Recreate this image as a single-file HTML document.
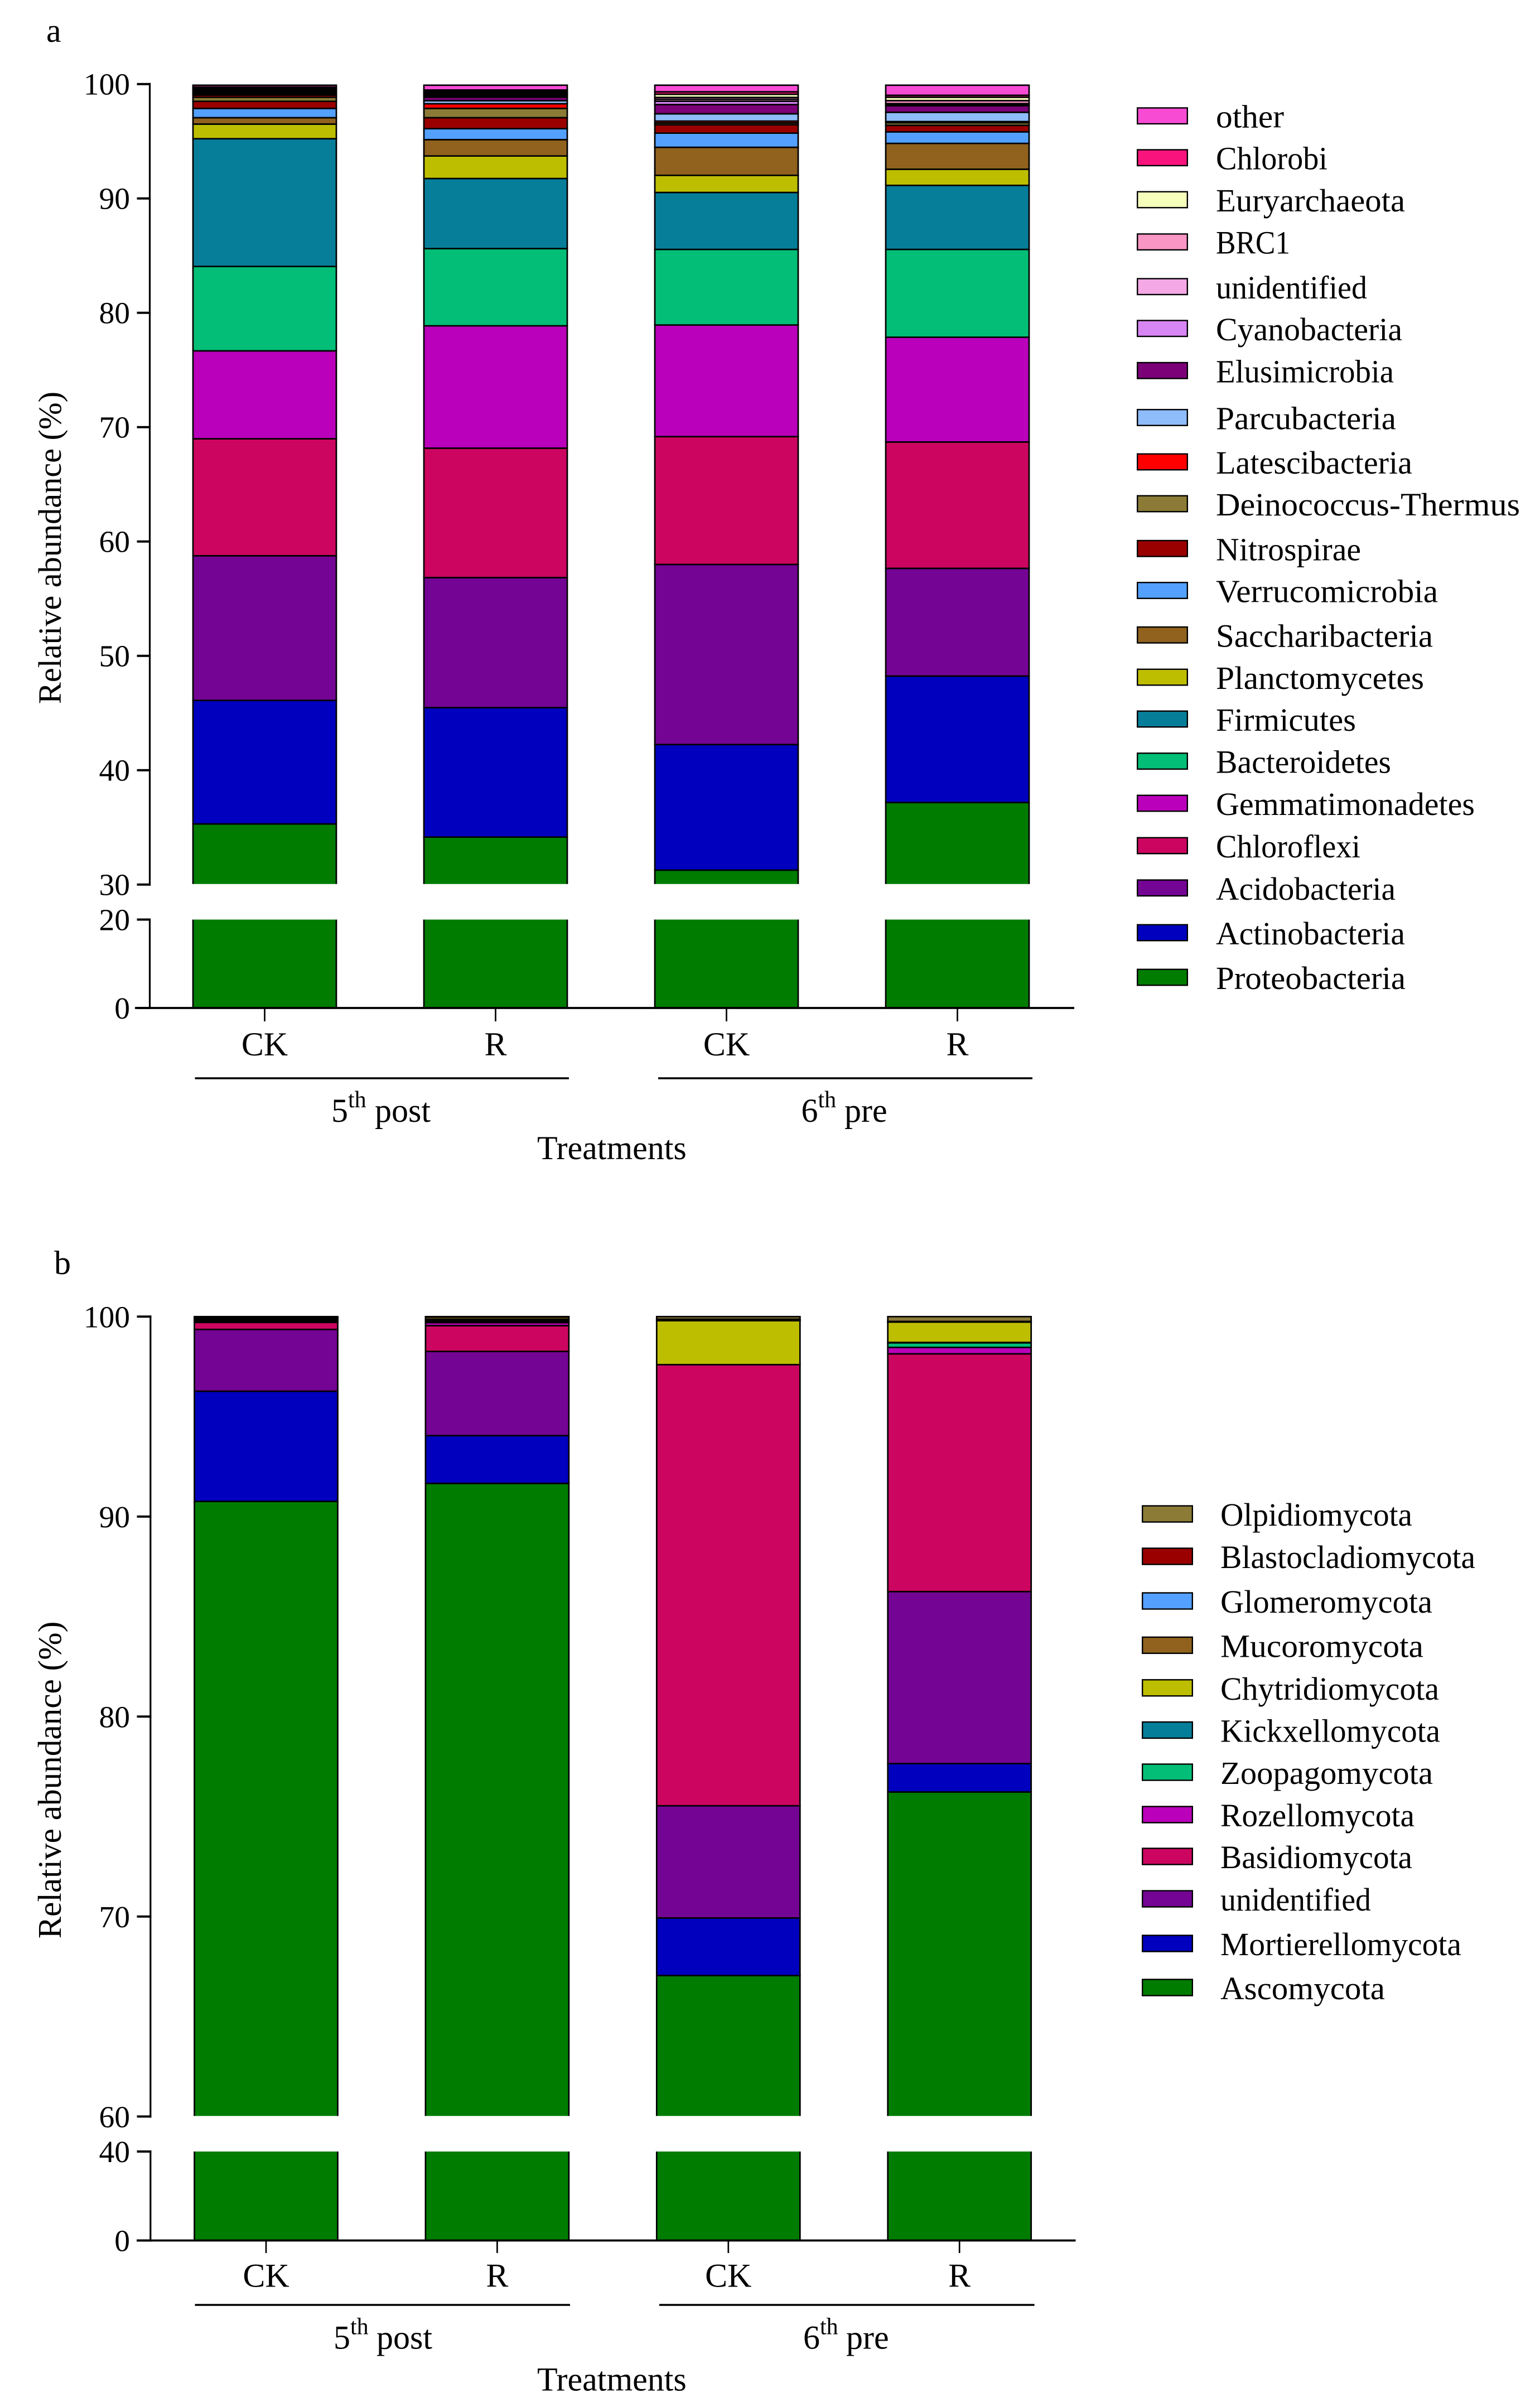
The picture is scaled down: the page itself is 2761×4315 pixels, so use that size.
<!DOCTYPE html>
<html lang="en">
<head>
<meta charset="utf-8">
<title>Relative abundance stacked bars</title>
<style>
html,body{margin:0;padding:0;background:#fff;}
svg{display:block;}
text{font-family:"Liberation Serif",serif;fill:#000;}
</style>
</head>
<body>
<svg id="figure" xmlns="http://www.w3.org/2000/svg" width="2761" height="4315" viewBox="0 0 2761 4315">
<defs id="clips"></defs>
<rect x="0" y="0" width="2761" height="4315" fill="#fff"></rect>
</svg>
<script>
// ---------- shared categories and ticks ----------
const treatmentCategories = ['CK', 'R', 'CK', 'R'];
const groupLabels = ['5', '6'];
const groupWords = ['post', 'pre'];

// ---------- panel a: bacteria (values per bar: 5th CK, 5th R, 6th CK, 6th R) ----------
const aUpperTicks = [100, 90, 80, 70, 60, 50, 40, 30];
const aLowerTicks = [20, 0];
const aProteobacteria = [35.3, 34.15, 31.26, 37.17];
const aActinobacteria = [10.8, 11.32, 10.98, 11.06];
const aAcidobacteria = [12.65, 11.37, 15.75, 9.42];
const aChloroflexi = [10.23, 11.32, 11.18, 11.05];
const aGemmatimonadetes = [7.69, 10.7, 9.76, 9.16];
const aBacteroidetes = [7.38, 6.75, 6.61, 7.68];
const aFirmicutes = [11.17, 6.13, 4.98, 5.6];
const aPlanctomycetes = [1.28, 1.97, 1.5, 1.41];
const aSaccharibacteria = [0.56, 1.43, 2.45, 2.26];
const aVerrucomicrobia = [0.81, 0.96, 1.24, 1.01];
const aNitrospirae = [0.62, 0.96, 0.73, 0.57];
const aDeinococcus = [0.36, 0.81, 0.16, 0.23];
const aLatescibacteria = [0.17, 0.41, 0.16, 0.1];
const aParcubacteria = [0.1, 0.27, 0.64, 0.81];
const aElusimicrobia = [0.1, 0.31, 0.81, 0.57];
const aCyanobacteria = [0.1, 0.13, 0.29, 0.11];
const aUnidentified = [0.1, 0.12, 0.17, 0.08];
const aBRC1 = [0.1, 0.12, 0.16, 0.26];
const aEuryarchaeota = [0.1, 0.12, 0.28, 0.3];
const aChlorobi = [0.12, 0.13, 0.21, 0.17];
const aOther = [0.16, 0.42, 0.58, 0.88];
const aSeriesValues = [aProteobacteria, aActinobacteria, aAcidobacteria, aChloroflexi, aGemmatimonadetes, aBacteroidetes, aFirmicutes, aPlanctomycetes, aSaccharibacteria, aVerrucomicrobia, aNitrospirae, aDeinococcus, aLatescibacteria, aParcubacteria, aElusimicrobia, aCyanobacteria, aUnidentified, aBRC1, aEuryarchaeota, aChlorobi, aOther];
const aSeriesNames = ['Proteobacteria', 'Actinobacteria', 'Acidobacteria', 'Chloroflexi', 'Gemmatimonadetes', 'Bacteroidetes', 'Firmicutes', 'Planctomycetes', 'Saccharibacteria', 'Verrucomicrobia', 'Nitrospirae', 'Deinococcus-Thermus', 'Latescibacteria', 'Parcubacteria', 'Elusimicrobia', 'Cyanobacteria', 'unidentified', 'BRC1', 'Euryarchaeota', 'Chlorobi', 'other'];
const aSeriesColors = ['#007c00', '#0000be', '#740494', '#cc0660', '#ba00ba', '#03be77', '#067e9a', '#bebe00', '#90621e', '#54a0ff', '#9b0000', '#8b7b36', '#ff0000', '#8fbcfa', '#7c0078', '#d986f5', '#f5a8e6', '#f896c4', '#f5ffbb', '#f9147d', '#f84bd4'];

// ---------- panel b: fungi ----------
const bUpperTicks = [100, 90, 80, 70, 60];
const bLowerTicks = [40, 0];
const bAscomycota = [90.76, 91.66, 67.05, 76.23];
const bMortierellomycota = [5.51, 2.39, 2.88, 1.42];
const bUnidentified = [3.09, 4.21, 5.61, 8.6];
const bBasidiomycota = [0.35, 1.29, 22.06, 11.89];
const bRozellomycota = [0.05, 0.15, 0, 0.32];
const bZoopagomycota = [0.04, 0.05, 0, 0.23];
const bKickxellomycota = [0.04, 0.06, 0, 0.02];
const bChytridiomycota = [0.04, 0.06, 2.2, 1.02];
const bMucoromycota = [0.03, 0.11, 0.02, 0.01];
const bGlomeromycota = [0.03, 0.01, 0.02, 0.01];
const bBlastocladiomycota = [0.03, 0.01, 0.03, 0.01];
const bOlpidiomycota = [0.03, 0, 0.13, 0.24];
const bSeriesValues = [bAscomycota, bMortierellomycota, bUnidentified, bBasidiomycota, bRozellomycota, bZoopagomycota, bKickxellomycota, bChytridiomycota, bMucoromycota, bGlomeromycota, bBlastocladiomycota, bOlpidiomycota];
const bSeriesNames = ['Ascomycota', 'Mortierellomycota', 'unidentified', 'Basidiomycota', 'Rozellomycota', 'Zoopagomycota', 'Kickxellomycota', 'Chytridiomycota', 'Mucoromycota', 'Glomeromycota', 'Blastocladiomycota', 'Olpidiomycota'];
const bSeriesColors = ['#007c00', '#0000be', '#740494', '#cc0660', '#ba00ba', '#03be77', '#067e9a', '#bebe00', '#90621e', '#54a0ff', '#9b0000', '#8b7b36'];

// ---------- layout (not data) ----------
const aLayout = {
  key: 'a', letterX: 83, letterY: 75,
  axisX: 268.5, tickLeft: 245.5, upTop: 150.7, upPerUnit: 20.5, upMin: 30,
  lowTop: 1648.5, lowZero: 1807, lowMax: 20,
  firstCenter: 474.5, step: 414, barW: 257,
  xAxisLeft: 242, xAxisRight: 1926, xTickBottom: 1831, catBaseline: 1892,
  lineY: 1933, lines: [[349.5, 1020], [1180, 1851]],
  groupBaseline: 2011, groupX: [594, 1436.5], wordX: [672, 1514],
  titleX: 963, titleY: 2078, yTitleX: 109, yTitleY: 982, yTitleSize: 58.3,
  swatchX: 2038, textX: 2180, swatchH: 28.5,
  legendRowCenters: [1752, 1672, 1591.8, 1516, 1440, 1364.5, 1289, 1214, 1138.3, 1058.5, 983.3, 903, 828, 748.5, 664.3, 588.8, 513.8, 433.7, 358, 282.7, 207.7],
  legendTextWidths: [340, 339, 322, 259, 464, 314, 251, 373, 389, 398, 260, 545, 352, 323, 319, 334, 271, 133, 339, 200, 122]
};
const bLayout = {
  key: 'b', letterX: 97, letterY: 2284,
  axisX: 269.8, tickLeft: 245.5, upTop: 2360.3, upPerUnit: 35.85, upMin: 60,
  lowTop: 3857, lowZero: 4016.5, lowMax: 40,
  firstCenter: 477, step: 414.4, barW: 257,
  xAxisLeft: 245, xAxisRight: 1928.5, xTickBottom: 4039, catBaseline: 4099.5,
  lineY: 4132, lines: [[349.5, 1022], [1182, 1854.6]],
  groupBaseline: 4210.5, groupX: [598, 1440], wordX: [675, 1517],
  titleX: 963, titleY: 4285.5, yTitleX: 109, yTitleY: 3191, yTitleSize: 59.2,
  swatchX: 2047, textX: 2188, swatchH: 29,
  legendRowCenters: [3563, 3484, 3404, 3328, 3253, 3177, 3101.5, 3025.8, 2949.4, 2870, 2790, 2714],
  legendTextWidths: [295, 432, 270, 344, 348, 381, 394, 392, 364, 380, 457, 344]
};

const NS = 'http://www.w3.org/2000/svg';
const figure = document.getElementById('figure');
const clips = document.getElementById('clips');

function make(tag, attrs, parent) {
  const node = document.createElementNS(NS, tag);
  for (const k in attrs) node.setAttribute(k, attrs[k]);
  (parent || figure).appendChild(node);
  return node;
}
function slug(s) {
  return s.toLowerCase().replace(/[^a-z0-9]+/g, '-');
}

function drawPanel(L, upperTicks, lowerTicks, names, colors, values) {
  const yUp = v => L.upTop + (100 - v) * L.upPerUnit;
  const yLow = v => L.lowZero + (L.lowTop - L.lowZero) * v / L.lowMax;
  const xCenter = i => L.firstCenter + i * L.step;

  const panel = make('g', {});
  
  

  const upId = 'clip-up-' + L.key;
  const lowId = 'clip-low-' + L.key;
  const upClip = make('clipPath', { id: upId }, clips);
  make('rect', { x: 0, y: L.upTop - 20, width: 2761, height: yUp(L.upMin) - L.upTop + 19 }, upClip);
  const lowClip = make('clipPath', { id: lowId }, clips);
  make('rect', { x: 0, y: L.lowTop, width: 2761, height: L.lowZero - L.lowTop + 10 }, lowClip);

  const panelLetter = make('text', { x: L.letterX, y: L.letterY, 'font-size': 60 }, panel);
  panelLetter.textContent = L.key;
  
  

  // bars
  const upGroup = make('g', { 'clip-path': 'url(#' + upId + ')' }, panel);
  
  
  const lowGroup = make('g', { 'clip-path': 'url(#' + lowId + ')' }, panel);
  
  

  treatmentCategories.forEach((cat, i) => {
    let base = 0;
    values.forEach((series, s) => {
      const lo = base;
      const hi = base + series[i];
      base = hi;
      const x = xCenter(i) - L.barW / 2;
      if (hi > L.upMin) {
        const top = yUp(hi);
        const bottom = yUp(Math.max(lo, L.upMin)) + (lo < L.upMin ? 6 : 0);
        const upRect = make('rect', { x: x, y: top, width: L.barW, height: Math.max(bottom - top, 0), fill: colors[s], stroke: '#000', 'stroke-width': 2.7 }, upGroup);
        
        
      }
      if (lo < L.lowMax) {
        const top = yLow(Math.min(hi, L.lowMax)) - (hi > L.lowMax ? 6 : 0);
        const bottom = yLow(lo);
        const lowRect = make('rect', { x: x, y: top, width: L.barW, height: Math.max(bottom - top, 0), fill: colors[s], stroke: '#000', 'stroke-width': 2.7 }, lowGroup);
        
        
      }
    });
  });

  // y axis
  const upAxis = make('line', { x1: L.axisX, x2: L.axisX, y1: yUp(100) - 2, y2: yUp(L.upMin) + 2, stroke: '#000', 'stroke-width': 3.2 }, panel);
  
  
  const lowAxis = make('line', { x1: L.axisX, x2: L.axisX, y1: yLow(L.lowMax) - 2, y2: yLow(0), stroke: '#000', 'stroke-width': 3.2 }, panel);
  
  

  const drawYTick = (v, y) => {
    const tick = make('line', { x1: L.tickLeft, x2: L.axisX + 1.6, y1: y, y2: y, stroke: '#000', 'stroke-width': 4 }, panel);
    
    
    const label = make('text', { x: 233, y: y + 19, 'font-size': 55.5, 'text-anchor': 'end' }, panel);
    label.textContent = v;
    
    
  };
  upperTicks.forEach(v => drawYTick(v, yUp(v)));
  lowerTicks.forEach(v => drawYTick(v, yLow(v)));

  const yTitle = make('text', { x: 0, y: 0, 'font-size': L.yTitleSize, 'text-anchor': 'middle', transform: 'translate(' + L.yTitleX + ' ' + L.yTitleY + ') rotate(-90)' }, panel);
  yTitle.textContent = 'Relative abundance (%)';
  
  

  // x axis
  const xAxis = make('line', { x1: L.xAxisLeft, x2: L.xAxisRight, y1: L.lowZero, y2: L.lowZero, stroke: '#000', 'stroke-width': 3.8 }, panel);
  
  
  treatmentCategories.forEach((cat, i) => {
    const tick = make('line', { x1: xCenter(i), x2: xCenter(i), y1: L.lowZero, y2: L.xTickBottom, stroke: '#000', 'stroke-width': 2.7 }, panel);
    
    
    const label = make('text', { x: xCenter(i), y: L.catBaseline, 'font-size': 60, 'text-anchor': 'middle' }, panel);
    label.textContent = cat;
    
    
  });

  // treatment groups
  groupLabels.forEach((num, g) => {
    const line = make('line', { x1: L.lines[g][0], x2: L.lines[g][1], y1: L.lineY, y2: L.lineY, stroke: '#000', 'stroke-width': 3.6 }, panel);
    
    
    const label = make('text', { x: L.groupX[g], y: L.groupBaseline, 'font-size': 60 }, panel);
    
    
    label.appendChild(document.createTextNode(num));
    const sup = make('tspan', { dy: -26, 'font-size': 42 }, label);
    sup.textContent = 'th';
    const word = make('tspan', { dy: 26, x: L.wordX[g] }, label);
    word.textContent = groupWords[g];
  });

  const xTitle = make('text', { x: L.titleX, y: L.titleY, 'font-size': 60 }, panel);
  xTitle.textContent = 'Treatments';
  
  

  // legend
  const legend = make('g', {}, panel);
  
  
  names.forEach((name, s) => {
    const cy = L.legendRowCenters[s];
    const swatch = make('rect', { x: L.swatchX + 1.2, y: cy - L.swatchH / 2, width: 89.6, height: L.swatchH, fill: colors[s], stroke: '#000', 'stroke-width': 2.4 }, legend);
    
    
    const label = make('text', { x: L.textX, y: cy + 21, 'font-size': 58, textLength: L.legendTextWidths[s], lengthAdjust: 'spacingAndGlyphs' }, legend);
    label.textContent = name;
    
    
  });
}

drawPanel(aLayout, aUpperTicks, aLowerTicks, aSeriesNames, aSeriesColors, aSeriesValues);
drawPanel(bLayout, bUpperTicks, bLowerTicks, bSeriesNames, bSeriesColors, bSeriesValues);
</script>
</body>
</html>
